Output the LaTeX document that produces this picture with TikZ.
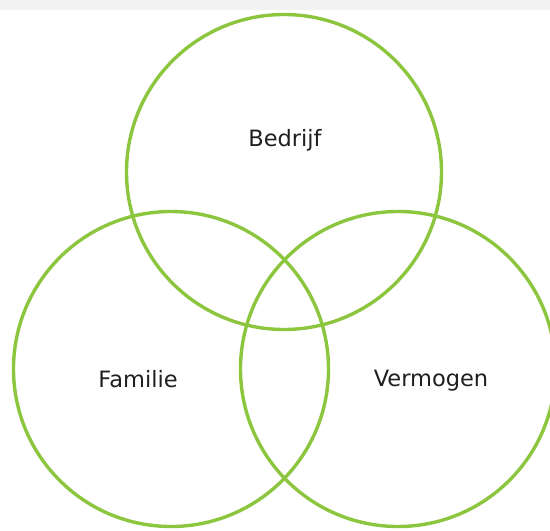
\documentclass[tikz,border=0pt]{standalone}
\usepackage{fontspec}
\setmainfont{DejaVu Sans}
\definecolor{colRing}{HTML}{8CC63F}
\definecolor{colBand}{HTML}{F2F2F2}
\tikzset{
  %% one ring of the diagram
  ring/.style={
    draw=colRing, line width=3.4pt,
    circle, minimum size=315pt, inner sep=0pt
  },
  %% ring label
  lbl/.style={font=\fontsize{22.5}{27}\selectfont, text=black!88}
}
\begin{document}
\begin{tikzpicture}[x=1pt, y=-1pt]

% frame and top band
\useasboundingbox (0,0) rectangle (550,531);
\fill[colBand] (0,0) rectangle (550,10);

% rings
\node[ring] (bedrijf)  at (284,172) {};
\node[ring] (familie)  at (171,369) {};
\node[ring] (vermogen) at (398,369) {};

% labels
\node[lbl] (tBedrijf)  at (285,140) {Bedrijf};
\node[lbl] (tFamilie)  at (138,379) {Familie};
\node[lbl] (tVermogen) at (431,381) {Vermogen};

\end{tikzpicture}
\end{document}
